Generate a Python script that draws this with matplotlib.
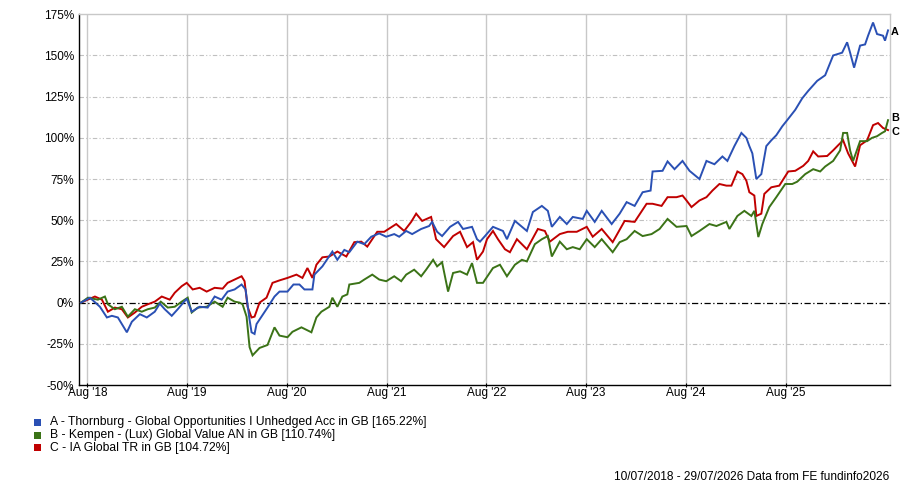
import matplotlib
matplotlib.use("Agg")
import matplotlib.pyplot as plt
from matplotlib.patches import Rectangle

plt.rcParams['font.family'] = ['Liberation Sans', 'DejaVu Sans']

# ---- data (decimal year, cumulative % return) ----
series_a = [
    (2018.52, 0), (2018.61, 3), (2018.71, -2.5), (2018.78, -9), (2018.83, -8), (2018.89, -9),
    (2018.98, -18), (2019.03, -11.6), (2019.11, -7), (2019.18, -9), (2019.26, -5.5), (2019.31, -0.6),
    (2019.36, -4), (2019.43, -8), (2019.49, -4), (2019.58, 2.4), (2019.63, -5.5), (2019.71, -2.5),
    (2019.79, -3), (2019.86, 3.7), (2019.93, 1.8), (2019.99, 6.7), (2020.06, 8), (2020.13, 11),
    (2020.17, 8), (2020.21, -10.4), (2020.23, -18), (2020.26, -19), (2020.28, -13), (2020.33, -8.5),
    (2020.39, -3), (2020.46, 3.7), (2020.51, 6.7), (2020.59, 6.7), (2020.65, 11), (2020.71, 11),
    (2020.76, 8), (2020.84, 8), (2020.86, 17), (2020.94, 22), (2021.04, 31), (2021.09, 26),
    (2021.16, 32), (2021.21, 30.6), (2021.29, 37), (2021.36, 35.5), (2021.43, 40), (2021.51, 42),
    (2021.58, 40), (2021.66, 41.6), (2021.71, 40), (2021.78, 43.5), (2021.84, 41.6), (2021.93, 44.7),
    (2022.01, 46.5), (2022.04, 49), (2022.09, 43), (2022.14, 40.4), (2022.22, 46), (2022.30, 49),
    (2022.35, 44.7), (2022.44, 46), (2022.49, 38.5), (2022.52, 37), (2022.57, 40.4), (2022.65, 46),
    (2022.75, 43.5), (2022.79, 38.5), (2022.87, 49.6), (2022.99, 43.5), (2023.05, 55), (2023.14, 58.7),
    (2023.20, 55.7), (2023.24, 46), (2023.32, 52), (2023.39, 47.7), (2023.45, 52), (2023.55, 50.8),
    (2023.59, 55.7), (2023.67, 49), (2023.74, 55.7), (2023.84, 47.7), (2023.92, 54), (2023.99, 61),
    (2024.07, 58.7), (2024.15, 67), (2024.23, 68), (2024.25, 79.6), (2024.35, 80), (2024.40, 85.7),
    (2024.47, 81), (2024.55, 86), (2024.62, 80), (2024.72, 75), (2024.79, 86), (2024.87, 84),
    (2024.95, 88.7), (2025.00, 86), (2025.07, 95), (2025.14, 103), (2025.19, 100), (2025.22, 95),
    (2025.25, 90.6), (2025.29, 75), (2025.34, 78), (2025.39, 95), (2025.44, 98.5), (2025.49, 101.6),
    (2025.55, 107), (2025.60, 110.8), (2025.68, 117), (2025.75, 124), (2025.81, 128.5), (2025.90, 134.6),
    (2025.98, 138), (2026.06, 150), (2026.15, 151.7), (2026.20, 158), (2026.23, 151.7), (2026.27, 142.6),
    (2026.33, 156), (2026.38, 156.7), (2026.41, 162), (2026.46, 170), (2026.50, 163), (2026.56, 162),
    (2026.58, 159), (2026.61, 165.22),
]

series_b = [
    (2018.52, 0), (2018.59, 3), (2018.69, 1.8), (2018.76, 3.7), (2018.79, -1), (2018.86, -4),
    (2018.93, -2.5), (2018.99, -8.5), (2019.06, -4), (2019.13, -5.5), (2019.19, -4), (2019.26, -3),
    (2019.32, 0.6), (2019.39, -3), (2019.46, -2.5), (2019.53, 0.6), (2019.59, 3), (2019.63, -6),
    (2019.69, -3), (2019.78, -2.5), (2019.86, 0.6), (2019.94, -2.5), (2019.99, 3), (2020.06, 0.6),
    (2020.11, 0), (2020.14, -1), (2020.18, -8.5), (2020.21, -27), (2020.24, -32), (2020.31, -27.5),
    (2020.39, -25.7), (2020.46, -15), (2020.51, -20), (2020.59, -21), (2020.64, -17.7), (2020.73, -15),
    (2020.83, -18), (2020.88, -9), (2020.93, -5.5), (2021.01, -2.5), (2021.04, 3), (2021.09, -2.5),
    (2021.14, 3.7), (2021.19, 5), (2021.21, 11), (2021.31, 12), (2021.36, 14), (2021.44, 17),
    (2021.51, 14), (2021.58, 13), (2021.66, 16), (2021.73, 13), (2021.78, 17), (2021.86, 20),
    (2021.93, 16), (2021.98, 20), (2022.05, 26), (2022.09, 22), (2022.14, 24.5), (2022.20, 6.7),
    (2022.25, 18), (2022.32, 19), (2022.39, 17), (2022.44, 24), (2022.49, 12), (2022.55, 12),
    (2022.65, 21), (2022.72, 23), (2022.79, 16), (2022.87, 23), (2022.94, 26), (2022.99, 25),
    (2023.07, 35.5), (2023.14, 38.5), (2023.20, 40.4), (2023.24, 28), (2023.32, 37), (2023.39, 32.4),
    (2023.45, 33.7), (2023.52, 32.4), (2023.59, 38.5), (2023.67, 33.7), (2023.74, 38.5), (2023.85, 30.6),
    (2023.92, 36.7), (2023.99, 38.5), (2024.07, 43.5), (2024.15, 40.4), (2024.24, 41.6), (2024.32, 44.7),
    (2024.40, 50.8), (2024.49, 46), (2024.59, 46.5), (2024.64, 40.4), (2024.72, 43.5), (2024.82, 47.7),
    (2024.89, 46.5), (2024.99, 49), (2025.02, 44.7), (2025.10, 52.6), (2025.17, 55.7), (2025.24, 52.6),
    (2025.27, 55.7), (2025.31, 39.8), (2025.35, 47.7), (2025.42, 58), (2025.49, 64), (2025.58, 72),
    (2025.65, 72), (2025.70, 73.4), (2025.78, 78), (2025.86, 81), (2025.93, 79.6), (2025.98, 82.6),
    (2026.06, 86), (2026.13, 92.4), (2026.16, 103), (2026.20, 103), (2026.23, 92.4), (2026.26, 86),
    (2026.33, 98), (2026.40, 98), (2026.45, 100), (2026.50, 101), (2026.55, 103), (2026.58, 104),
    (2026.61, 110.74),
]

series_c = [
    (2018.52, 0), (2018.66, 3.7), (2018.73, 1.8), (2018.79, -5.5), (2018.86, -3), (2018.93, -4),
    (2018.99, -9), (2019.06, -6), (2019.13, -2.5), (2019.19, -1), (2019.26, 0.6), (2019.33, 3.7),
    (2019.41, 1.8), (2019.46, 6), (2019.53, 10), (2019.58, 12), (2019.64, 8), (2019.71, 9),
    (2019.78, 6.7), (2019.86, 9), (2019.94, 8.5), (2019.99, 12), (2020.06, 14), (2020.13, 16),
    (2020.16, 13), (2020.19, -2.5), (2020.23, -9), (2020.26, -8.5), (2020.31, 0), (2020.38, 3),
    (2020.44, 12), (2020.51, 13.5), (2020.59, 15), (2020.68, 17), (2020.74, 15), (2020.79, 21),
    (2020.84, 15), (2020.88, 23), (2020.94, 27.5), (2021.01, 28), (2021.09, 31), (2021.18, 28),
    (2021.26, 36.7), (2021.33, 37), (2021.39, 34), (2021.49, 43), (2021.56, 43), (2021.68, 47.7),
    (2021.76, 43.5), (2021.83, 49), (2021.88, 54), (2021.94, 49.6), (2022.03, 52), (2022.08, 38.5),
    (2022.16, 33.7), (2022.25, 40.4), (2022.32, 43), (2022.39, 33.7), (2022.45, 36.7), (2022.49, 26),
    (2022.55, 31), (2022.59, 38.5), (2022.65, 43.5), (2022.70, 38.5), (2022.77, 32.4), (2022.82, 30.6),
    (2022.89, 38.5), (2022.99, 32.4), (2023.10, 44.7), (2023.17, 43.5), (2023.22, 37), (2023.32, 41.6),
    (2023.40, 43), (2023.49, 43), (2023.59, 46), (2023.65, 40), (2023.74, 44.7), (2023.85, 36.7),
    (2023.97, 49.6), (2024.07, 49), (2024.19, 60), (2024.25, 60), (2024.34, 58.7), (2024.40, 64),
    (2024.49, 64), (2024.55, 65), (2024.59, 62), (2024.64, 58), (2024.72, 62), (2024.79, 64),
    (2024.85, 68), (2024.92, 72), (2024.99, 71), (2025.04, 71), (2025.10, 79.6), (2025.15, 78),
    (2025.19, 74), (2025.22, 67), (2025.27, 65), (2025.29, 52.6), (2025.34, 54), (2025.37, 66),
    (2025.44, 70), (2025.52, 71), (2025.61, 79.6), (2025.68, 80), (2025.76, 83), (2025.81, 86),
    (2025.86, 91.8), (2025.91, 88.7), (2026.00, 89), (2026.06, 92.4), (2026.11, 95.5), (2026.16, 98.5),
    (2026.21, 90.6), (2026.28, 82.6), (2026.33, 95.5), (2026.40, 98.5), (2026.46, 107.7), (2026.51, 109),
    (2026.56, 106), (2026.61, 104.72),
]

letters = ['A', 'B', 'C']
legend_labels = [
    'A - Thornburg - Global Opportunities I Unhedged Acc in GB [165.22%]',
    'B - Kempen - (Lux) Global Value AN in GB [110.74%]',
    'C - IA Global TR in GB [104.72%]',
]
colors = ['#2a50b4', '#3b7317', '#c00000']
xtick_years = [2018, 2019, 2020, 2021, 2022, 2023, 2024, 2025]
xtick_labels = ["Aug '18", "Aug '19", "Aug '20", "Aug '21", "Aug '22", "Aug '23", "Aug '24", "Aug '25"]
ytick_vals = [-50, -25, 0, 25, 50, 75, 100, 125, 150, 175]
footer = '10/07/2018 - 29/07/2026 Data from FE fundinfo2026'

# ---- figure ----
fig = plt.figure(figsize=(9.0, 4.84), dpi=100)
ax = fig.add_axes([0.0883, 0.2045, 0.9006, 0.766])

grid_col = '#c8c8c8'
xticks = [y + 7 / 12 for y in xtick_years]
for xt in xticks:
    ax.axvline(xt, color=grid_col, lw=1.0, zorder=1)
for yv in ytick_vals:
    if yv == 0:
        ax.axhline(0, color='black', lw=0.9, ls=(0, (5, 2, 1, 2)), zorder=2)
    elif yv not in (-50, 175):
        ax.axhline(yv, color='#c0c0c0', lw=0.8, ls=(0, (4, 2, 1, 2, 1, 2)), zorder=1)

all_series = [series_a, series_b, series_c]
order = [0, 2, 1]
for i in order:
    xs = [p[0] for p in all_series[i]]
    ys = [p[1] for p in all_series[i]]
    ax.plot(xs, ys, color=colors[i], lw=1.4, zorder=3 + (2 - i), solid_joinstyle='miter')

ax.set_xlim(2018.505, 2026.63)
ax.set_ylim(-50, 175)
ax.set_xticks(xticks)
ax.set_xticklabels(xtick_labels, fontsize=8.5)
ax.set_yticks(ytick_vals)
ax.set_yticklabels([f'{v}%' for v in ytick_vals], fontsize=8.5)
ax.tick_params(axis='x', length=3, width=0.8, color='black', pad=0, direction='inout')
ax.tick_params(axis='y', length=0, pad=4)

for s in ['top', 'right']:
    ax.spines[s].set_color(grid_col)
    ax.spines[s].set_linewidth(1.0)
for s in ['left', 'bottom']:
    ax.spines[s].set_color('black')
    ax.spines[s].set_linewidth(1.0)

# end letters
letter_offsets = [-1.5, 1.5, -1.5]
for i, ser in enumerate(all_series):
    ax.annotate(letters[i], xy=(1.0, ser[-1][1]), xycoords=('axes fraction', 'data'),
                xytext=(0.8, letter_offsets[i]), textcoords='offset points', ha='left', va='center',
                fontsize=7.8, fontweight='bold', annotation_clip=False)

# legend
W, H = 900.0, 484.0
for i, lab in enumerate(legend_labels):
    yc = 422.5 + i * 12.5
    fig.patches.append(Rectangle((34 / W, 1 - (yc + 3.5) / H), 7 / W, 7 / H,
                                 transform=fig.transFigure, facecolor=colors[i],
                                 edgecolor='none'))
    fig.text(50 / W, 1 - yc / H, lab, fontsize=8.7, ha='left', va='center')

fig.text(889 / W, 1 - 476.5 / H, footer, fontsize=8.6, ha='right', va='center')

fig.savefig('out.png', dpi=100)
